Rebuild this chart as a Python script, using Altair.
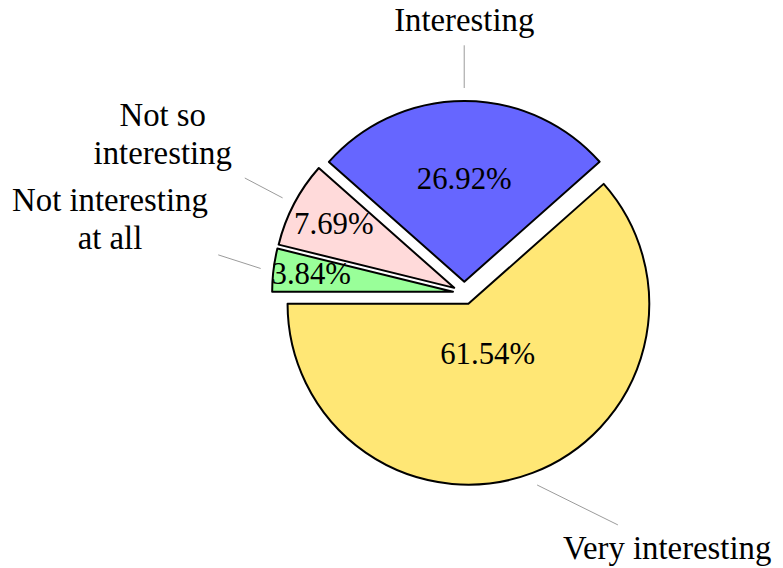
import altair as alt
import pandas as pd

# ---- data ----
LABELS = ["Very interesting", "Interesting", "Not so\ninteresting", "Not interesting\nat all"]
VALUES = [61.54, 26.92, 7.69, 3.84]
COLORS = ["#FFE775", "#6666FF", "#FFDADA", "#99FF99"]

# ---- layout / style constants (pgf-pie-like) ----
TOP_PAD = 8
CX, CY = 459.3, 285.2 - TOP_PAD   # pie centre in chart pixels
R = 182                    # radius
EXPLODE = 11.5             # explode distance of every slice
PIN_GAP = 13               # pin start beyond the rim
PIN_DIST = 43              # pin distance
CHAR_W = 13.2              # estimated label character width
PAD = 10                   # node inner sep
LINE_H = 38
TEXT_HALF = 14.5
FONT = "Liberation Serif"

df = pd.DataFrame({"order": list(range(len(LABELS))), "label": LABELS, "value": VALUES})

base = alt.Chart(df).transform_window(
    cum="sum(value)", sort=[alt.SortField("order")], frame=[None, 0]
).transform_joinaggregate(
    total="sum(value)"
).transform_calculate(
    t0="1.5*PI - 2*PI*(datum.cum - datum.value)/datum.total",
    t1="1.5*PI - 2*PI*datum.cum/datum.total",
).transform_calculate(
    mid="(datum.t0 + datum.t1)/2",
    span="360*datum.value/datum.total",
    pct="format(datum.value, '.2f') + '%'",
).transform_calculate(
    dx="sin(datum.mid)",
    dy="-cos(datum.mid)",
).transform_calculate(
    cx=f"{CX} + {EXPLODE}*datum.dx",
    cy=f"{CY} + {EXPLODE}*datum.dy",
    f="max(min(-(datum.span - 10)/110*0.3, 0), -0.5) + 0.8",
    sx="abs(datum.dx) < 0.02 ? 0 : (datum.dx > 0 ? 1 : -1)",
    sy="abs(datum.dy) < 0.02 ? 0 : (datum.dy > 0 ? 1 : -1)",
    nlines="length(split(datum.label, '\\n'))",
).transform_calculate(
    nx=f"datum.cx + datum.f*{R}*datum.dx",
    ny=f"datum.cy + datum.f*{R}*datum.dy",
    qx=f"datum.cx + ({R}+{PIN_GAP})*datum.dx",
    qy=f"datum.cy + ({R}+{PIN_GAP})*datum.dy",
    maxlen="datum.nlines > 1 ? max(length(split(datum.label, '\\n')[0]), length(split(datum.label, '\\n')[1])) : length(datum.label)",
).transform_calculate(
    ax=f"datum.qx + {PIN_DIST}*datum.dx",
    ay=f"datum.qy + {PIN_DIST}*datum.dy",
    hw=f"datum.maxlen*{CHAR_W}/2 + {PAD}",
    hh=f"(datum.nlines - 1)*{LINE_H}/2 + {TEXT_HALF} + {PAD}",
).transform_calculate(
    lx="datum.ax + datum.sx*datum.hw",
    ly="datum.ay + datum.sy*datum.hh",
).transform_calculate(
    # Vega puts the first line at y with baseline middle: shift the block up
    ty=f"datum.ly - (datum.nlines - 1)*{LINE_H}/2",
    tt="min(datum.hw/max(abs(datum.qx - datum.lx), 0.01), datum.hh/max(abs(datum.qy - datum.ly), 0.01))",
).transform_calculate(
    ex="datum.lx + (datum.qx - datum.lx)*datum.tt",
    ey="datum.ly + (datum.qy - datum.ly)*datum.tt",
)

arcs = base.mark_arc(radius=R, stroke="black", strokeWidth=2, strokeJoin="round").encode(
    theta=alt.Theta("t1:Q", scale=None, stack=None),
    theta2="t0:Q",
    x=alt.X("cx:Q", scale=None),
    y=alt.Y("cy:Q", scale=None),
    color=alt.Color("label:N", scale=alt.Scale(domain=LABELS, range=COLORS), legend=None),
)

numbers = base.mark_text(font=FONT, fontSize=31, align="center", baseline="middle", color="black").encode(
    x=alt.X("nx:Q", scale=None),
    y=alt.Y("ny:Q", scale=None),
    text="pct:N",
)

pins = base.mark_rule(color="#9a9a9a", strokeWidth=1).encode(
    x=alt.X("qx:Q", scale=None),
    y=alt.Y("qy:Q", scale=None),
    x2="ex:Q",
    y2="ey:Q",
)

labels = base.mark_text(font=FONT, fontSize=33, align="center", baseline="middle",
                        lineBreak="\n", lineHeight=LINE_H, color="black").encode(
    x=alt.X("lx:Q", scale=None),
    y=alt.Y("ty:Q", scale=None),
    text="label:N",
)

chart = alt.layer(arcs, numbers, pins, labels).properties(
    width=772, height=560 - TOP_PAD,
    padding={"left": 0, "top": TOP_PAD, "right": 0, "bottom": 0},
    autosize="none", background="white"
).configure_view(stroke=None)

chart.save("out.html", embed_options={"renderer": "svg", "actions": False})
